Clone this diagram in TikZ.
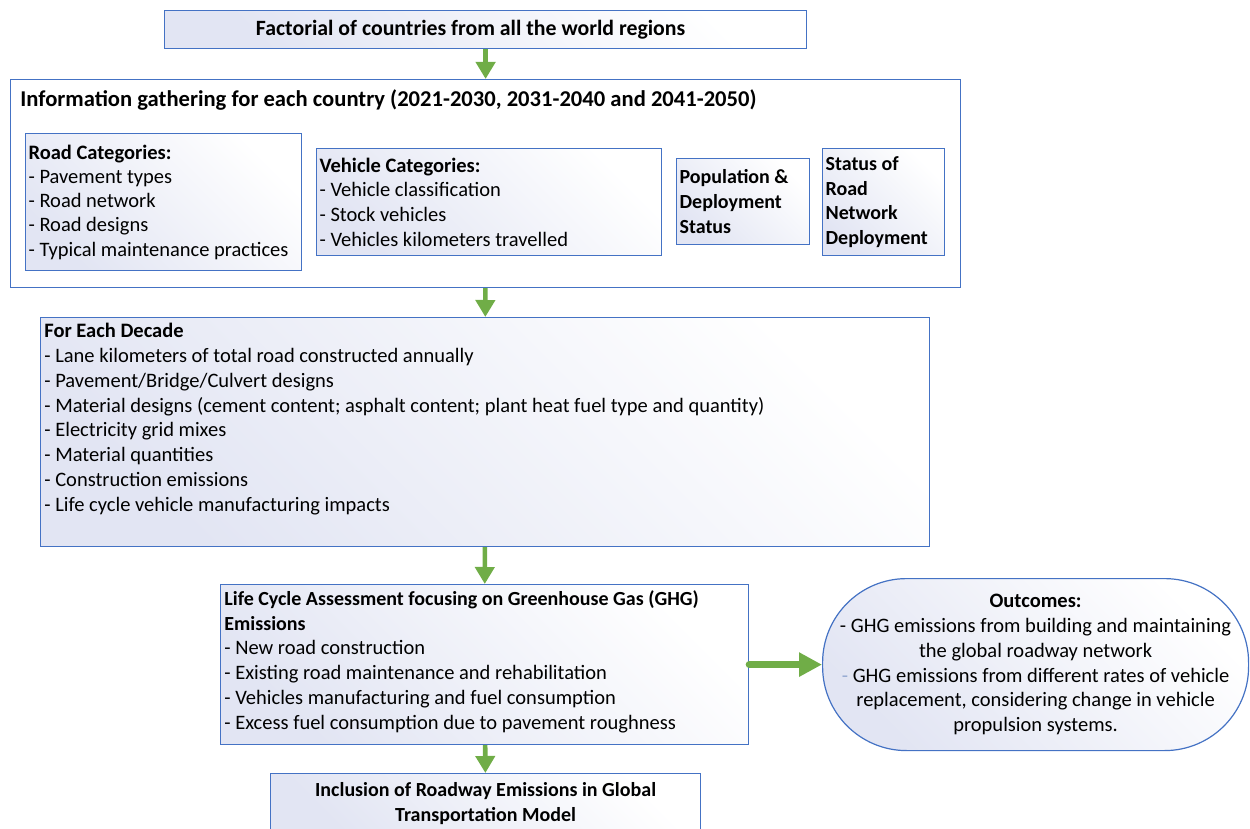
\documentclass[tikz,border=0pt]{standalone}
\usepackage{fontspec}
\setmainfont{Carlito}
\usetikzlibrary{arrows.meta,positioning}

\definecolor{boxblue}{RGB}{68,114,196}
\definecolor{flowgreen}{RGB}{112,173,71}
\definecolor{boxtint}{RGB}{226,229,243}
\definecolor{fadedash}{RGB}{150,170,210}

\begin{document}
\begin{tikzpicture}[x=0.5pt, y=-0.5pt,
    every node/.style={font=\fontsize{10.25}{12.4}\selectfont},
    box/.style={draw=boxblue, line width=0.6pt, anchor=north west, inner sep=1.5pt},
    tinted/.style={box, top color=white, bottom color=boxtint, shading angle=-45},
    txt/.style={anchor=north west, inner sep=0pt, align=flush left},
    boldtext/.style={font=\fontsize{10}{12.4}\selectfont\bfseries},
    flow/.style={draw=flowgreen, fill=flowgreen, line width=2.3pt, -{Triangle[length=8.5pt, width=9.5pt]}},
    bigflow/.style={draw=flowgreen, fill=flowgreen, line width=3.5pt, line cap=round, -{Triangle[length=11.5pt, width=11.5pt]}}]
    \useasboundingbox (0,0) rectangle (1250,829);

    % top level
    \node[tinted, minimum width=321pt, minimum height=19pt, font=\fontsize{10.9}{12.4}\selectfont\bfseries] (world) at (164,10) {Factorial of countries from all the world regions\kern15pt};

    % information gathering
    \node[box, minimum width=475pt, minimum height=104pt] (info) at (10,79) {};
    \node[anchor=west, inner sep=0pt, font=\fontsize{11.3}{12.4}\selectfont\bfseries] (infotitle) at (20,100) {Information gathering for each country (2021-2030, 2031-2040 and 2041-2050)};

    \node[tinted, minimum width=138pt, minimum height=68.5pt, text width=135pt, align=flush left, font=\fontsize{10.25}{12.1}\selectfont] (road) at (25,133)
        {\textbf{Road Categories:}\\- Pavement types\\- Road network\\- Road designs\\- Typical maintenance practices};
    \node[tinted, minimum width=172.5pt, minimum height=53.5pt, text width=169.5pt, align=flush left] (vehicle) at (316,148)
        {\textbf{Vehicle Categories:}\\- Vehicle classification\\- Stock vehicles\\- Vehicles kilometers travelled};
    \node[tinted, minimum width=66.5pt, minimum height=43pt, text width=63.5pt, align=flush left, boldtext] (population) at (676,158)
        {Population \&\\Deployment\\Status};
    \node[tinted, minimum width=61pt, minimum height=53.5pt, text width=58pt, align=flush left, boldtext] (network) at (822,148)
        {Status of\\Road\\Network\\Deployment};

    % decade data
    \node[tinted, minimum width=444.5pt, minimum height=114.5pt] (decade) at (40,317) {};
    \node[txt] (decadetext) at (44,323)
        {\textbf{For Each Decade}\\
         - Lane kilometers of total road constructed annually\\
         - Pavement/Bridge/Culvert designs\\
         - Material designs (cement content; asphalt content; plant heat fuel type and quantity)\\
         - Electricity grid mixes\\
         - Material quantities\\
         - Construction emissions\\
         - Life cycle vehicle manufacturing impacts};

    % assessment
    \node[tinted, minimum width=264pt, minimum height=80pt] (lca) at (220,584) {};
    \node[txt] (lcatext) at (224,590)
        {{\fontsize{10}{12.4}\selectfont\bfseries Life Cycle Assessment focusing on Greenhouse Gas (GHG)}\\
         {\fontsize{10}{12.4}\selectfont\bfseries Emissions}\\
         - New road construction\\
         - Existing road maintenance and rehabilitation\\
         - Vehicles manufacturing and fuel consumption\\
         - Excess fuel consumption due to pavement roughness};

    \node[tinted, rounded corners=42pt, minimum width=213pt, minimum height=86pt, align=center] (outcome) at (822,578)
        {\textbf{Outcomes:}\\
         - GHG emissions from building and maintaining\\
         the global roadway network\\
         {\color{fadedash}-} GHG emissions from different rates of vehicle\\
         replacement, considering change in vehicle\\
         propulsion systems.};

    \node[tinted, minimum width=215pt, minimum height=30pt, align=center, boldtext] (model) at (270,773)
        {Inclusion of Roadway Emissions in Global\\Transportation Model};

    % arrows
    \draw[flow] (world) -- (info);
    \draw[flow] (info) -- (decade);
    \draw[flow] (decade) -- (lca);
    \draw[flow] (lca) -- (model);
    \draw[bigflow] (lca.east) -- (outcome.west);

\end{tikzpicture}
\end{document}
